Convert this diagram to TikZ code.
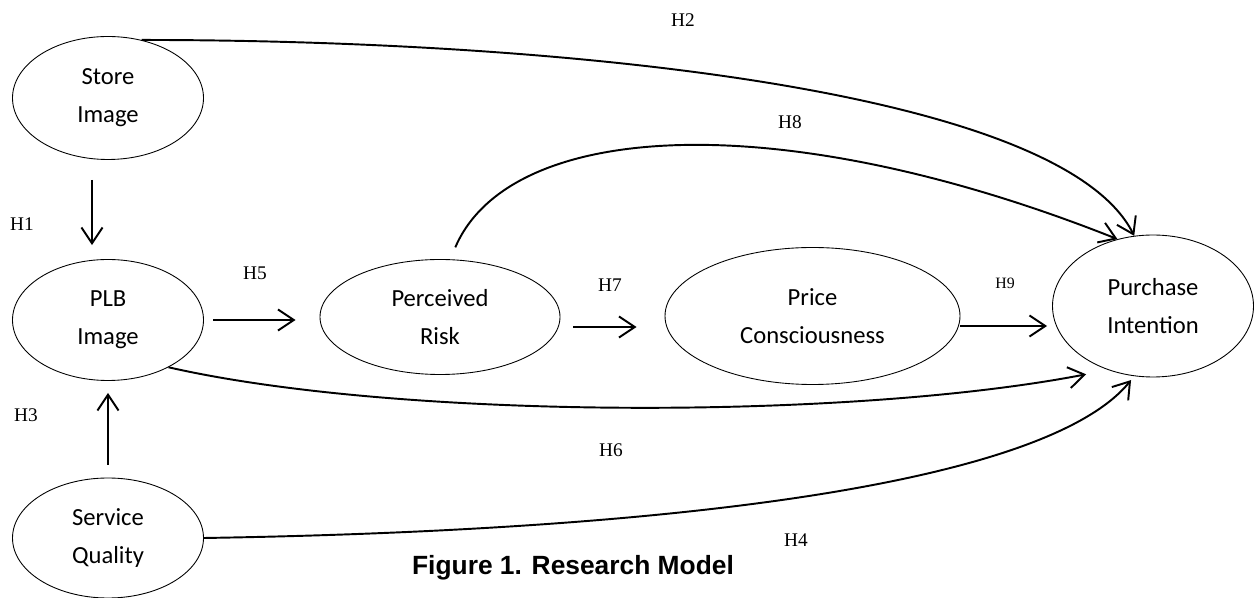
\documentclass[tikz,border=0pt]{standalone}
\usepackage{fontspec}
\setmainfont{Liberation Serif}
\newfontfamily\calibri{Carlito}
\newfontfamily\arial{Liberation Sans}
\usetikzlibrary{shapes.geometric,arrows.meta}

\begin{document}
\begin{tikzpicture}
    \tikzstyle{arrow} = [-{Straight Barb[length=9pt,width=12pt]}, line width=1.1pt]
    \tikzstyle{construct} = [ellipse, draw=black, line width=0.5pt, inner sep=0pt,
        align=center, font=\calibri\fontsize{14}{21.6}\selectfont]
    \tikzstyle{hyp} = [font=\fontsize{11}{13}\selectfont]

    \useasboundingbox (0,0) rectangle (25.14,-11.96);

    \node(storeimage) [construct, minimum width=3.82cm, minimum height=2.46cm]
        at (2.16,-1.96) {Store\\Image};
    \node(plbimage) [construct, minimum width=3.82cm, minimum height=2.42cm]
        at (2.16,-6.40) {PLB\\Image};
    \node(servicequality) [construct, minimum width=3.82cm, minimum height=2.4cm]
        at (2.16,-10.76) {Service\\Quality};
    \node(perceivedrisk) [construct, minimum width=4.8cm, minimum height=2.3cm]
        at (8.80,-6.34) {Perceived\\Risk};
    \node(priceconsc) [construct, minimum width=5.9cm, minimum height=2.74cm]
        at (16.25,-6.32) {Price\\Consciousness};
    \node(purchaseint) [construct, minimum width=4.02cm, minimum height=2.84cm]
        at (23.06,-6.12) {Purchase\\Intention};

    \node(h1) [hyp] at (0.44,-4.48) {H1};
    \node(h2) [hyp] at (13.66,-0.40) {H2};
    \node(h3) [hyp] at (0.52,-8.30) {H3};
    \node(h4) [hyp] at (15.92,-10.80) {H4};
    \node(h5) [hyp] at (5.10,-5.46) {H5};
    \node(h6) [hyp] at (12.22,-9.00) {H6};
    \node(h7) [hyp] at (12.20,-5.70) {H7};
    \node(h8) [hyp] at (15.80,-2.44) {H8};
    \node(h9) [font=\fontsize{9}{11}\selectfont] at (20.10,-5.66) {H9};

    \node(caption) [font=\arial\bfseries\fontsize{15}{18}\selectfont]
        at (11.46,-11.36) {Figure 1. Research Model};

    \draw[arrow, shorten <=0.4cm, shorten >=0.28cm]
        ([xshift=-0.32cm]storeimage.south) -- ([xshift=-0.32cm]plbimage.north);
    \draw[arrow, shorten <=0.26cm, shorten >=0.24cm]
        (servicequality.north) -- (plbimage.south);
    \draw[arrow, shorten <=0.19cm, shorten >=0.48cm]
        (plbimage.east) -- (plbimage.east -| perceivedrisk.west);
    \draw[arrow, shorten <=0.26cm, shorten >=0.56cm]
        ([yshift=-0.2cm]perceivedrisk.east) -- ([yshift=-0.2cm]perceivedrisk.east -| priceconsc.west);
    \draw[arrow, shorten >=0.1cm]
        ([yshift=-0.2cm]priceconsc.east) -- ([yshift=-0.2cm]priceconsc.east -| purchaseint.west);

    \draw[arrow] (storeimage.60) .. controls (11,-0.8) and (21.2,-1.75) .. (purchaseint.105);
    \draw[arrow, shorten <=0.26cm]
        (perceivedrisk.80) .. controls (10.2,-2.4) and (15.6,-2.1) .. (purchaseint.118);
    \draw[arrow, shorten >=0.45cm]
        (plbimage.-38) .. controls (8,-8.4) and (17,-8.4) .. (purchaseint.-125);
    \draw[arrow, shorten >=0.1cm]
        (servicequality.east) .. controls (14,-10.6) and (21,-9.6) .. (purchaseint.-105);
\end{tikzpicture}
\end{document}
